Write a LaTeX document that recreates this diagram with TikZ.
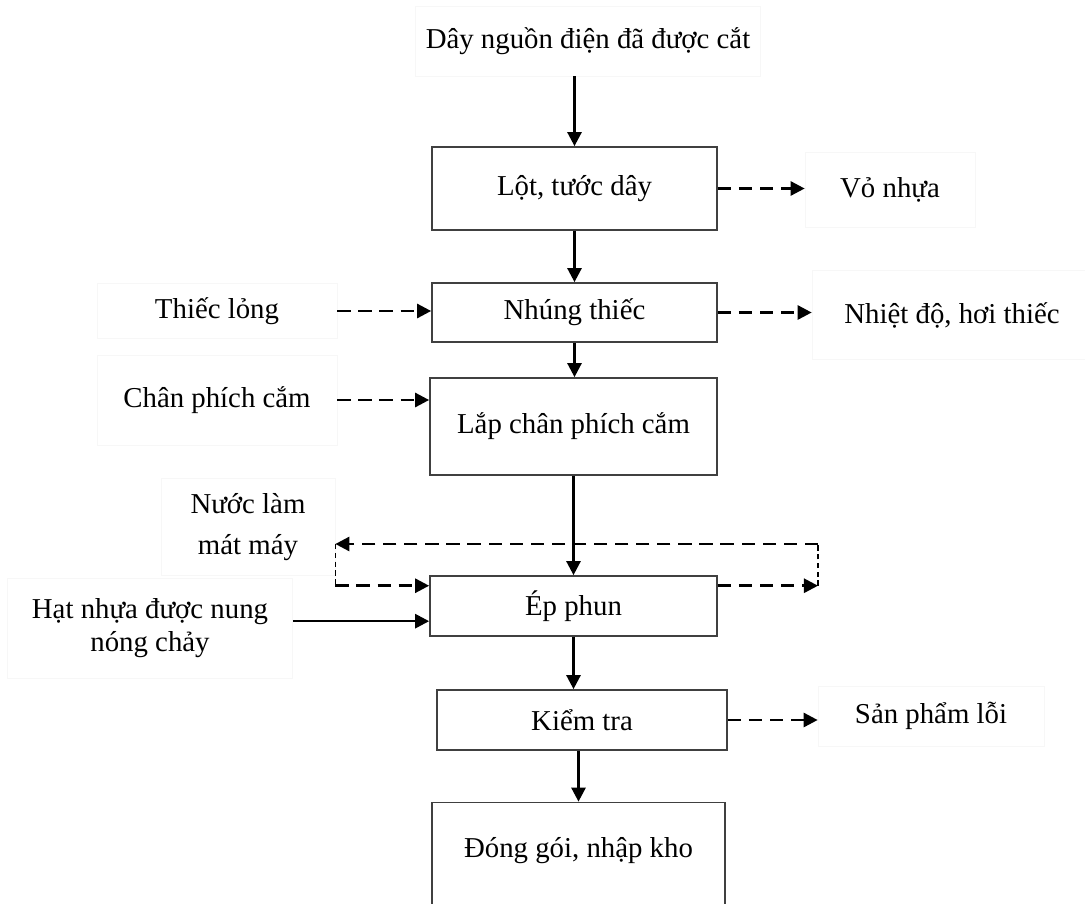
\documentclass[tikz,border=0pt]{standalone}
\usepackage{fontspec}
\setmainfont{Liberation Serif}
\usepackage{tikz}
\usetikzlibrary{arrows.meta}
\tikzset{
  process/.style={
    rectangle,
    draw=black!75,
    line width=1pt,
    minimum width=5.7cm,
    minimum height=1.2cm,
    align=center
    },
  sidebox/.style={
    rectangle,
    draw=black!3,
    align=center
    },
  arrow/.style={line width=1.5pt,-{Triangle[length=8pt,width=8pt]}},
  dasharrow/.style={arrow, dash pattern=on 7.5pt off 4.5pt},
  loopline/.style={line width=0.6pt, dash pattern=on 3pt off 2pt},
}

\begin{document}
\begin{tikzpicture}[
  x=0.02cm, y=-0.02cm,
  every node/.style={font=\fontsize{16.4}{19}\selectfont}
  ]
\useasboundingbox (0,0) rectangle (1085,903);
\fill[white] (0,0) rectangle (1085,903);
\clip (0,0) rectangle (1085,903);

% main line
\node (src) [sidebox, minimum width=6.9cm, minimum height=1.4cm] at (588,41) {Dây nguồn điện đã được cắt};
\node (lot) [process, minimum height=1.66cm] at (574.5,188.5) {Lột, tước dây};
\node (nhung) [process, minimum height=1.18cm] at (574.5,312.5) {Nhúng thiếc};
\node (lap) [process, minimum width=5.74cm, minimum height=1.94cm] at (573.5,426.5) {Lắp chân phích cắm};
\node (ep) [process, minimum width=5.74cm] at (573.5,606) {Ép phun};
\node (kt) [process, minimum width=5.8cm] at (582,720) {Kiểm tra};
\node (dong) [process, minimum width=5.86cm, minimum height=2.7cm, text depth=26pt] at (578.5,870) {Đóng gói, nhập kho};

% inputs and outputs
\node (vo) [sidebox, minimum width=3.4cm, minimum height=1.5cm] at (890,190) {Vỏ nhựa};
\node (nhiet) [sidebox, minimum width=5.6cm, minimum height=1.78cm] at (952,315) {Nhiệt độ, hơi thiếc};
\node (thiec) [sidebox, minimum width=4.8cm, minimum height=1.1cm] at (217,311) {Thiếc lỏng};
\node (chan) [sidebox, minimum width=4.8cm, minimum height=1.8cm] at (217,400) {Chân phích cắm};
\node (nuoc) [sidebox, minimum width=3.48cm, minimum height=1.94cm] at (248,527) {Nước làm\\[4pt] mát máy};
\node (hat) [sidebox, minimum width=5.7cm, minimum height=2cm] at (150,628) {Hạt nhựa được nung\\ nóng chảy};
\node (loi) [sidebox, minimum width=4.52cm, minimum height=1.2cm] at (931,716) {Sản phẩm lỗi};
\coordinate (cool) at (818,544);

\draw [arrow] (src.south -| lot.north) -- (lot.north);
\draw [arrow] (lot.south) -- (nhung.north);
\draw [arrow] (nhung.south) -- (nhung.south |- lap.north);
\draw [arrow] (lap.south) -- (lap.south |- ep.north);
\draw [arrow] (ep.south) -- (ep.south |- kt.north);
\draw [arrow] (dong.north |- kt.south) -- (dong.north);

\draw [dasharrow] (lot.east) -- (lot.east -| vo.west);
\draw [dasharrow] (nhung.east) -- (nhung.east -| nhiet.west);
\draw [dasharrow] (thiec.east) -- (thiec.east -| nhung.west);
\draw [dasharrow] (chan.east) -- (chan.east -| lap.west);
\draw [arrow] (hat.east |- ep.186) -- (ep.186);
\draw [dasharrow] (kt.east) -- (kt.east -| loi.west);

% cooling water loop
\draw [dasharrow] (ep.8) -- (ep.8 -| cool);
\draw [loopline] (ep.8 -| cool) -- (cool);
\draw [dasharrow] (cool) -- (cool -| nuoc.east);
\draw [loopline] (cool -| nuoc.east) -- (ep.172 -| nuoc.east);
\draw [dasharrow] (ep.172 -| nuoc.east) -- (ep.172);

\end{tikzpicture}
\end{document}
